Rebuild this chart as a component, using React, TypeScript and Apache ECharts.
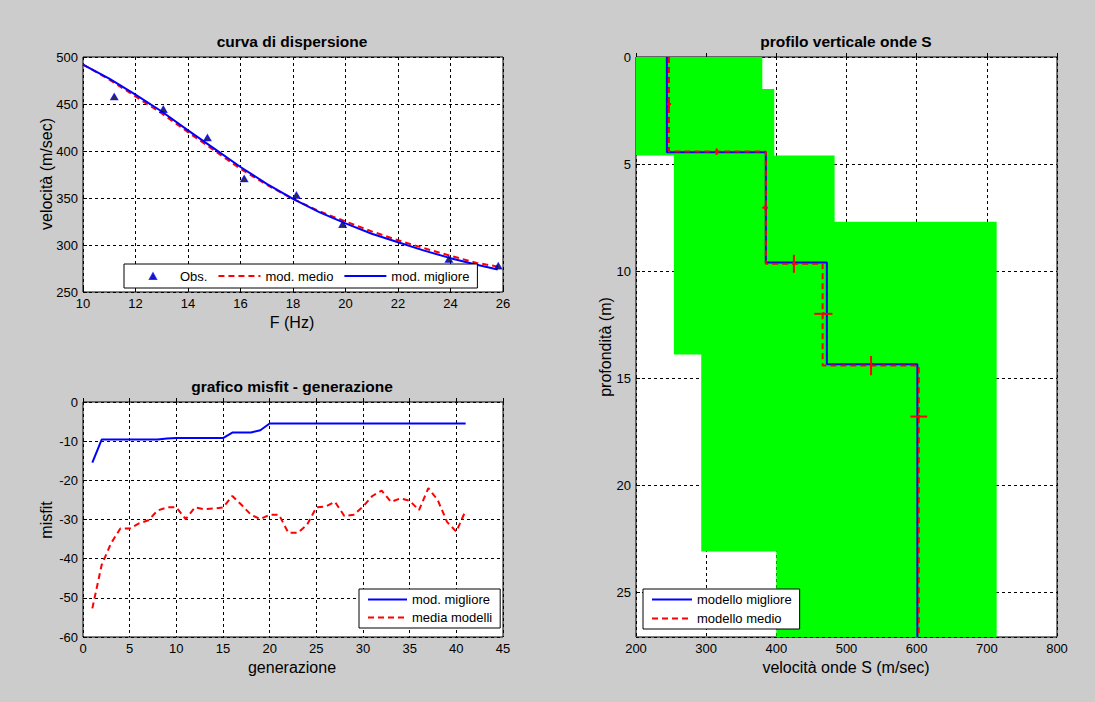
import React, { useEffect, useRef } from "react";
import * as echarts from "echarts";

// ---- curva di dispersione ----
const freq = [10, 11, 12, 13, 14, 15, 16, 17, 18, 19, 20, 21, 22, 23, 24, 25, 25.8];
const velBest = [492, 477, 460, 442, 422, 402.5, 383, 365, 349, 335, 323, 312, 303, 294, 286, 279, 274];
const velMean = [492, 476, 458, 440, 420, 400.5, 381, 364, 349, 336, 325, 314.5, 305, 296.5, 288.5, 281, 277];
const obsFreq = [11.19, 13.06, 14.74, 16.14, 18.13, 19.89, 23.94, 25.82];
const obsVel = [457.8, 444.3, 414.2, 370.6, 352.9, 322, 284.8, 277.7];

// ---- grafico misfit - generazione ----
const generations = [1, 2, 3, 4, 5, 6, 7, 8, 9, 10, 11, 12, 13, 14, 15, 16, 17, 18, 19, 20, 21, 22, 23, 24, 25, 26, 27, 28, 29, 30, 31, 32, 33, 34, 35, 36, 37, 38, 39, 40, 41];
const misfitBest = [-15.5, -9.6, -9.6, -9.6, -9.6, -9.6, -9.6, -9.6, -9.3, -9.2, -9.2, -9.2, -9.2, -9.2, -9.2, -7.8, -7.8, -7.8, -7.2, -5.5, -5.5, -5.5, -5.5, -5.5, -5.5, -5.5, -5.5, -5.5, -5.5, -5.5, -5.5, -5.5, -5.5, -5.5, -5.5, -5.5, -5.5, -5.5, -5.5, -5.5, -5.5];
const misfitMean = [-52.7, -41.6, -36.1, -32.3, -32.3, -31.0, -30.2, -27.7, -26.9, -26.9, -29.9, -26.9, -27.4, -27.2, -26.9, -24.0, -26.3, -28.8, -29.9, -28.8, -28.8, -33.4, -33.4, -31.4, -26.9, -26.7, -25.5, -29.1, -28.8, -26.7, -24.0, -22.6, -25.5, -24.6, -25.2, -27.6, -22.0, -25.0, -30.6, -33.1, -27.7];

// ---- profilo verticale onde S ----
const bandTop = [0, 1.5, 4.6, 7.7, 13.9, 23.1];
const bandBottom = [1.5, 4.6, 7.7, 13.9, 23.1, 27.1];
const bandMin = [200, 200, 254, 254, 293, 400];
const bandMax = [380, 397, 483, 714, 714, 714];
const bestVs = [244, 385, 472, 601];
const bestInterfaces = [4.45, 9.6, 14.36];
const meanVs = [247, 385, 466, 603];
const meanInterfaces = [4.42, 9.66, 14.42];
const crossVel = [247, 315, 384, 425, 467, 535, 603];
const crossDepth = [2.2, 4.42, 7.04, 9.66, 12.0, 14.42, 16.8];
const crossHalfVel = [3, 2, 4, 2, 13, 2, 12];
const crossHalfDepth = [0.15, 0.15, 0.1, 0.42, 0.08, 0.45, 0.08];
const maxDepth = 27.1;

const FONT = "'Liberation Sans', Arial, Helvetica, sans-serif";

function stepProfile(vs: number[], ifs: number[], bottom: number) {
  const pts: number[][] = [];
  let top = 0;
  for (let i = 0; i < vs.length; i++) {
    const bot = i < ifs.length ? ifs[i] : bottom;
    pts.push([vs[i], top], [vs[i], bot]);
    top = bot;
  }
  return pts;
}

function axisCommon(extra: any) {
  return {
    type: "value",
    axisLine: { show: false },
    axisTick: { show: true, inside: true, length: 4, lineStyle: { color: "#000" } },
    axisLabel: { color: "#000", fontSize: 13, fontFamily: FONT, margin: 5 },
    splitLine: { show: true, lineStyle: { color: "#000", type: [3, 3], width: 1 } },
    ...extra,
  };
}

function txt(text: string, x: number, y: number, bold = false, rot = 0, size = 16) {
  return {
    type: "text",
    x,
    y,
    rotation: rot,
    style: {
      text,
      fill: "#000",
      font: `${bold ? "bold " : ""}${size}px ${FONT}`,
      align: "center",
      verticalAlign: "middle",
      textAlign: "center",
      textVerticalAlign: "middle",
    },
  };
}

const lineItem = (name: string) => ({ name, itemStyle: { opacity: 0 } });
// small triangle centred in a 42x14 icon box (corner dots fix the box size)
const OBS_ICON = "path://M0,0 L0.01,0 M42,14 L41.99,14 M17,10 L20,4.5 L23,10 Z";

export default function App() {
  const ref = useRef<HTMLDivElement>(null);
  useEffect(() => {
    if (!ref.current) return;
    const chart = echarts.init(ref.current, undefined, { renderer: "svg" });
    const gridStyle = { show: true, backgroundColor: "#fff", borderColor: "#000", borderWidth: 1 };
    const legendCommon = {
      backgroundColor: "#fff",
      borderColor: "#000",
      borderWidth: 1,
      borderRadius: 0,
      selectedMode: false,
      symbolKeepAspect: true,
      textStyle: { fontSize: 13, color: "#000", fontFamily: FONT },
    };
    const option: any = {
      animation: false,
      backgroundColor: "#cccccc",
      grid: [
        { left: 83, top: 57, width: 420, height: 235, ...gridStyle },
        { left: 83, top: 402, width: 420, height: 235, ...gridStyle },
        { left: 636, top: 57, width: 421, height: 580, ...gridStyle },
      ],
      xAxis: [
        axisCommon({ gridIndex: 0, min: 10, max: 26, interval: 2 }),
        axisCommon({ gridIndex: 1, min: 0, max: 45, interval: 5 }),
        axisCommon({ gridIndex: 2, min: 200, max: 800, interval: 100 }),
      ],
      yAxis: [
        axisCommon({ gridIndex: 0, min: 250, max: 500, interval: 50 }),
        axisCommon({ gridIndex: 1, min: -60, max: 0, interval: 10 }),
        axisCommon({
          gridIndex: 2,
          min: 0,
          max: maxDepth,
          interval: 5,
          inverse: true,
          axisLabel: { color: "#000", fontSize: 13, fontFamily: FONT, margin: 5, showMaxLabel: false },
        }),
      ],
      legend: [
        {
          ...legendCommon,
          orient: "horizontal",
          left: 124,
          top: 264,
          padding: [4, 8, 4, 8],
          itemGap: 10,
          itemWidth: 42,
          itemHeight: 14,
          data: [
            { name: "Obs.", icon: OBS_ICON },
            lineItem("mod. medio"),
            lineItem("mod. migliore"),
          ],
        },
        {
          ...legendCommon,
          orient: "vertical",
          left: 359,
          top: 589,
          padding: [4, 8, 4, 8],
          itemGap: 5,
          itemWidth: 39,
          itemHeight: 12,
          data: [lineItem("mod. migliore"), lineItem("media modelli")],
        },
        {
          ...legendCommon,
          orient: "vertical",
          left: 643,
          top: 589,
          padding: [4, 8, 4, 8],
          itemGap: 6,
          itemWidth: 40,
          itemHeight: 12,
          data: [lineItem("modello migliore"), lineItem("modello medio")],
        },
      ],
      graphic: [
        txt("curva di dispersione", 292, 41, true, 0, 15.5),
        txt("grafico misfit - generazione", 292, 386, true, 0, 15.5),
        txt("profilo verticale onde S", 846, 41, true, 0, 15.5),
        txt("F (Hz)", 292, 322),
        txt("velocità (m/sec)", 46, 174, false, Math.PI / 2),
        txt("generazione", 292, 667),
        txt("misfit", 46, 520, false, Math.PI / 2),
        txt("velocità onde S (m/sec)", 846, 667),
        txt("profondità (m)", 605, 347, false, Math.PI / 2),
      ],
      series: [
        {
          name: "Obs.",
          type: "scatter",
          xAxisIndex: 0,
          yAxisIndex: 0,
          symbol: "triangle",
          symbolSize: [7, 6],
          z: 5,
          itemStyle: { color: "#000000", borderColor: "#0000ff", borderWidth: 1.2 },
          data: obsFreq.map((f, i) => [f, obsVel[i]]),
        },
        {
          name: "mod. medio",
          type: "line",
          xAxisIndex: 0,
          yAxisIndex: 0,
          symbol: "none",
          lineStyle: { color: "#ff0000", width: 2, type: [6, 4] },
          itemStyle: { color: "#ff0000" },
          data: freq.map((f, i) => [f, velMean[i]]),
        },
        {
          name: "mod. migliore",
          type: "line",
          xAxisIndex: 0,
          yAxisIndex: 0,
          symbol: "none",
          lineStyle: { color: "#0000ff", width: 2 },
          itemStyle: { color: "#0000ff" },
          data: freq.map((f, i) => [f, velBest[i]]),
        },
        {
          name: "mod. migliore",
          type: "line",
          xAxisIndex: 1,
          yAxisIndex: 1,
          symbol: "none",
          lineStyle: { color: "#0000ff", width: 2 },
          itemStyle: { color: "#0000ff" },
          data: generations.map((g, i) => [g, misfitBest[i]]),
        },
        {
          name: "media modelli",
          type: "line",
          xAxisIndex: 1,
          yAxisIndex: 1,
          symbol: "none",
          lineStyle: { color: "#ff0000", width: 2, type: [6, 4] },
          itemStyle: { color: "#ff0000" },
          data: generations.map((g, i) => [g, misfitMean[i]]),
        },
        {
          type: "custom",
          xAxisIndex: 2,
          yAxisIndex: 2,
          silent: true,
          clip: true,
          z: 1,
          data: [[bandMin[0], bandTop[0]]],
          encode: { x: 0, y: 1 },
          renderItem: (_params: any, api: any) => {
            const pts: number[][] = [];
            for (let i = 0; i < bandTop.length; i++) {
              pts.push(api.coord([bandMin[i], bandTop[i]]));
              pts.push(api.coord([bandMin[i], bandBottom[i]]));
            }
            for (let i = bandTop.length - 1; i >= 0; i--) {
              pts.push(api.coord([bandMax[i], bandBottom[i]]));
              pts.push(api.coord([bandMax[i], bandTop[i]]));
            }
            return { type: "polygon", shape: { points: pts }, style: { fill: "#00ff00" } };
          },
        },
        {
          name: "modello migliore",
          type: "line",
          xAxisIndex: 2,
          yAxisIndex: 2,
          symbol: "none",
          z: 3,
          lineStyle: { color: "#0000ff", width: 2 },
          itemStyle: { color: "#0000ff" },
          data: stepProfile(bestVs, bestInterfaces, maxDepth),
        },
        {
          name: "modello medio",
          type: "line",
          xAxisIndex: 2,
          yAxisIndex: 2,
          symbol: "none",
          z: 4,
          lineStyle: { color: "#ff0000", width: 2, type: [6, 4] },
          itemStyle: { color: "#ff0000" },
          data: stepProfile(meanVs, meanInterfaces, maxDepth),
        },
        {
          type: "custom",
          xAxisIndex: 2,
          yAxisIndex: 2,
          silent: true,
          z: 5,
          encode: { x: 0, y: 1 },
          data: crossVel.map((v, i) => [v, crossDepth[i], crossHalfVel[i], crossHalfDepth[i]]),
          renderItem: (_params: any, api: any) => {
            const v = api.value(0);
            const d = api.value(1);
            const dv = api.value(2);
            const dd = api.value(3);
            const l = api.coord([v - dv, d]);
            const r = api.coord([v + dv, d]);
            const t = api.coord([v, d - dd]);
            const b = api.coord([v, d + dd]);
            const st = { stroke: "#ff0000", lineWidth: 2 };
            return {
              type: "group",
              children: [
                { type: "line", shape: { x1: l[0], y1: l[1], x2: r[0], y2: r[1] }, style: st },
                { type: "line", shape: { x1: t[0], y1: t[1], x2: b[0], y2: b[1] }, style: st },
              ],
            };
          },
        },
      ],
    };
    chart.setOption(option);
    return () => chart.dispose();
  }, []);
  return (
    <div
      ref={ref}
      style={{ position: "fixed", left: 0, top: 0, width: 1095, height: 702 }}
    />
  );
}
